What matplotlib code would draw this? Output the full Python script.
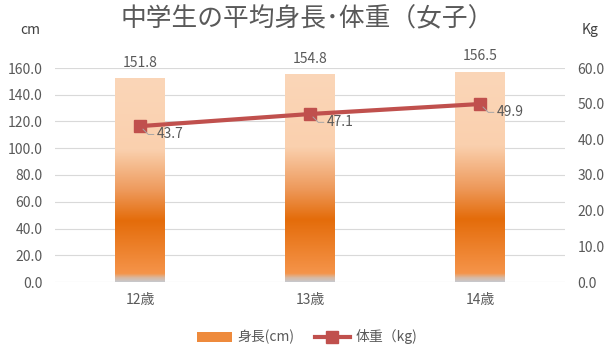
import numpy as np
import matplotlib
matplotlib.use("Agg")
import matplotlib.pyplot as plt
from matplotlib.colors import LinearSegmentedColormap
from matplotlib.patches import Patch
from matplotlib.lines import Line2D

plt.rcParams['font.family'] = ['Noto Sans CJK JP', 'DejaVu Sans']

# data
ages = ['12歳', '13歳', '14歳']
height_cm = [151.8, 154.8, 156.5]
weight_kg = [43.7, 47.1, 49.9]
left_ticks = [0, 20, 40, 60, 80, 100, 120, 140, 160]
right_ticks = [0, 10, 20, 30, 40, 50, 60]

txt = '#595959'
line_col = '#C0504D'

fig = plt.figure(figsize=(6.14, 3.55), dpi=100)
ax = fig.add_axes([55/614, 1-282/355, 510/614, 214/355])
ax2 = ax.twinx()

# gradient for bars (bottom -> top)
grad = LinearSegmentedColormap.from_list('bar', [
    (0.0, '#C8C8CC'), (0.02, '#D9B8A0'), (0.04, '#F5944A'),
    (0.30, '#E46C0A'), (0.45, '#EE9A5C'), (0.65, '#FAD0AE'), (1.0, '#FBD6B8')])
x = np.arange(len(ages))
w = 0.29
g = np.linspace(0, 1, 256).reshape(-1, 1)
for xi, h in zip(x, height_cm):
    ax.imshow(g, cmap=grad, origin='lower', aspect='auto',
              extent=[xi - w/2, xi + w/2, 0, h], zorder=2, interpolation='bilinear')
    ax.text(xi, h + 7, f'{h:.1f}', ha='center', va='bottom', fontsize=10, color=txt)

ax.set_xlim(-0.5, 2.5)
ax.set_ylim(0, 160)
ax.set_yticks(left_ticks)
ax.set_yticklabels([f'{v:.1f}' for v in left_ticks])
ax.set_xticks(x)
ax.set_xticklabels(ages)
ax.grid(axis='y', color='#D9D9D9', lw=0.8, zorder=0)
ax.set_axisbelow(True)
ax.tick_params(length=0, labelsize=10, labelcolor=txt)
ax.tick_params(axis='y', pad=9)
ax.tick_params(axis='x', pad=8)
for s in ax.spines.values():
    s.set_visible(False)

ax2.plot(x, weight_kg, color=line_col, lw=3, marker='s', ms=9, zorder=3)
ax2.set_ylim(0, 60)
ax2.set_yticks(right_ticks)
ax2.set_yticklabels([f'{v:.1f}' for v in right_ticks])
ax2.tick_params(length=0, labelsize=10, labelcolor=txt, pad=9)
for s in ax2.spines.values():
    s.set_visible(False)
for xi, v in zip(x, weight_kg):
    ax2.annotate(f'{v:.1f}', xy=(xi, v), xytext=(12, -6), textcoords='offset points',
                 ha='left', va='center', fontsize=10, color=txt,
                 arrowprops=dict(arrowstyle='-', color='#A6A6A6', lw=0.7,
                                 connectionstyle='angle,angleA=0,angleB=-45,rad=0',
                                 shrinkA=0, shrinkB=3))

fig.text(0.5, 1-19/355, '中学生の平均身長･体重（女子）', ha='center', va='center',
         fontsize=18.5, color=txt)
fig.text(20/614, 1-30/355, 'cm', ha='left', va='center', fontsize=10, color='#404040')
fig.text(590/614, 1-30/355, 'Kg', ha='center', va='center', fontsize=10, color='#404040')

handles = [Patch(facecolor='#EE8A3C', edgecolor='none'),
           Line2D([], [], color=line_col, lw=3, marker='s', ms=9)]
fig.legend(handles, ['身長(cm)', '体重（kg)'], loc='center', bbox_to_anchor=(0.5, 1-337/355),
           ncol=2, frameon=False, fontsize=10, labelcolor=txt, handlelength=2.5,
           columnspacing=1.5, handletextpad=0.4)

fig.savefig('out.png', dpi=100)
